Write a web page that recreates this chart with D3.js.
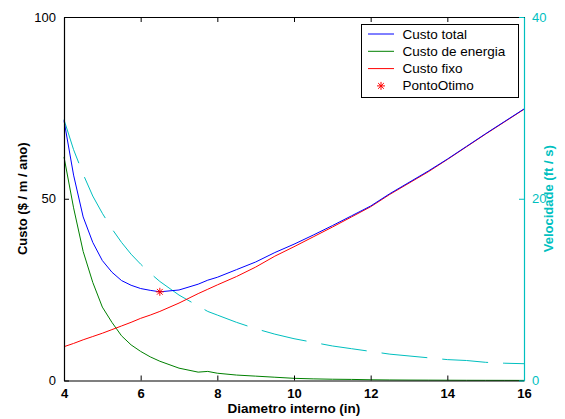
<!DOCTYPE html>
<html><head><meta charset="utf-8">
<script src="https://cdn.jsdelivr.net/npm/d3@7"></script>
<style>body{margin:0;background:#fff}svg{display:block}text{font-family:"Liberation Sans",Arial,sans-serif}</style>
</head><body><svg id="c" width="565" height="419"></svg>
<script>
const diam = [4,4.25,4.5,4.75,5,5.25,5.5,5.75,6,6.25,6.5,7,7.5,7.75,8,8.5,9,9.5,10,10.5,11,11.5,12,12.5,13,13.5,14,14.5,15,15.5,16];
const custoTotal = [71.5,56.5,45.0,38.0,33.0,29.8,27.5,26.2,25.3,24.8,24.4,24.9,26.5,27.6,28.4,30.5,32.6,35.2,37.5,40.0,42.6,45.3,48.0,51.4,54.5,57.6,60.9,64.4,67.9,71.3,74.7];
const custoEnergia = [61.5,47.5,35.5,27.0,20.2,16.0,12.3,9.8,8.0,6.5,5.3,3.4,2.3,2.5,2.0,1.5,1.2,0.9,0.6,0.45,0.35,0.3,0.2,0.15,0.12,0.1,0.08,0.06,0.05,0.04,0.03];
const custoFixo = [9.3,10.2,11.2,12.1,13.0,14.0,15.0,16.0,17.1,18.0,19.0,21.3,23.9,25.1,26.3,28.6,31.2,34.2,36.8,39.5,42.2,45.0,47.8,51.2,54.3,57.4,60.8,64.3,67.8,71.2,74.6];
const velocidade = [28.7,25.4,22.7,20.3,18.4,16.7,15.2,13.9,12.8,11.8,10.9,9.4,8.2,7.6,7.2,6.4,5.7,5.1,4.6,4.2,3.8,3.5,3.2,2.9,2.7,2.5,2.3,2.2,2.0,1.9,1.85];
const pontoOtimo = {d: 6.5, c: 24.4};
const xTicks = [4,6,8,10,12,14,16];
const yTicks = [0,50,100];
const y2Ticks = [0,20,40];
const legendLabels = ["Custo total","Custo de energia","Custo fixo","PontoOtimo"];
const colors = {total:"#0000ff", energia:"#008000", fixo:"#ff0000", vel:"#00bfbf"};

const L=64, R=524, T=17, B=380.5;
const svg = d3.select("#c");
const x = d3.scaleLinear().domain([4,16]).range([L,R]);
const y = d3.scaleLinear().domain([0,100]).range([B,T]);
const y2 = d3.scaleLinear().domain([0,40]).range([B,T]);

function line(vals, ys){ return d3.line().x((d,i)=>x(diam[i])).y(d=>ys(d))(vals); }

const g = svg.append("g");
g.append("path").attr("d", line(velocidade,y2)).attr("fill","none").attr("stroke",colors.vel).attr("stroke-width",1).attr("stroke-dasharray","46,15");
g.append("path").attr("d", line(custoEnergia,y)).attr("fill","none").attr("stroke",colors.energia).attr("stroke-width",1);
g.append("path").attr("d", line(custoFixo,y)).attr("fill","none").attr("stroke",colors.fixo).attr("stroke-width",1);
g.append("path").attr("d", line(custoTotal,y)).attr("fill","none").attr("stroke",colors.total).attr("stroke-width",1);

function star(sel, cx, cy, r){
  const s = sel.append("g").attr("stroke",colors.fixo).attr("stroke-width",1);
  s.append("line").attr("x1",cx-r).attr("x2",cx+r).attr("y1",cy).attr("y2",cy);
  s.append("line").attr("x1",cx).attr("x2",cx).attr("y1",cy-r).attr("y2",cy+r);
  const k=r*0.72;
  s.append("line").attr("x1",cx-k).attr("x2",cx+k).attr("y1",cy-k).attr("y2",cy+k);
  s.append("line").attr("x1",cx-k).attr("x2",cx+k).attr("y1",cy+k).attr("y2",cy-k);
}
star(g, x(pontoOtimo.d), y(pontoOtimo.c), 4);

// axes
const axB = svg.append("g").attr("transform",`translate(0,${B})`)
  .call(d3.axisBottom(x).tickValues(xTicks).tickSizeInner(-5).tickSizeOuter(0).tickPadding(8));
axB.selectAll("text").attr("font-size",13).attr("font-weight","bold").attr("fill","#000");
const axT = svg.append("g").attr("transform",`translate(0,${T})`)
  .call(d3.axisTop(x).tickValues(xTicks).tickSizeInner(-5).tickSizeOuter(0).tickFormat(""));
const axL = svg.append("g").attr("transform",`translate(${L},0)`)
  .call(d3.axisLeft(y).tickValues(yTicks).tickSizeInner(-5).tickSizeOuter(0).tickPadding(8));
axL.selectAll("text").attr("font-size",13).attr("fill","#000");
const axR = svg.append("g").attr("transform",`translate(${R},0)`)
  .call(d3.axisRight(y2).tickValues(y2Ticks).tickSizeInner(-5).tickSizeOuter(0).tickPadding(8));
axR.select(".domain").attr("stroke",colors.vel);
axR.selectAll(".tick line").attr("stroke",colors.vel);
axR.selectAll("text").attr("font-size",13).attr("fill",colors.vel);
svg.selectAll(".domain").attr("stroke-width",1.2);

// labels
svg.append("text").attr("x",(L+R)/2).attr("y",413).attr("text-anchor","middle")
  .attr("font-size",13.5).attr("font-weight","bold").text("Diametro interno (in)");
svg.append("text").attr("transform",`translate(27,${(T+B)/2}) rotate(-90)`).attr("text-anchor","middle")
  .attr("font-size",13).attr("font-weight","bold").text("Custo ($ / m / ano)");
svg.append("text").attr("transform",`translate(553,${(T+B)/2}) rotate(-90)`).attr("text-anchor","middle")
  .attr("font-size",13).attr("font-weight","bold").attr("fill",colors.vel).text("Velocidade (ft / s)");

// legend
const lg = svg.append("g");
lg.append("rect").attr("x",361.5).attr("y",24.5).attr("width",157).attr("height",73).attr("fill","#fff").attr("stroke","#000").attr("stroke-width",1);
const lcols=[colors.total,colors.energia,colors.fixo];
legendLabels.forEach((t,i)=>{
  const yy = 34 + i*17.3;
  if(i<3) lg.append("line").attr("x1",368).attr("x2",394).attr("y1",yy).attr("y2",yy).attr("stroke",lcols[i]).attr("stroke-width",1);
  else star(lg, 381, yy, 4);
  lg.append("text").attr("x",402.5).attr("y",yy+4.5).attr("font-size",13.5).text(t);
});
</script></body></html>
